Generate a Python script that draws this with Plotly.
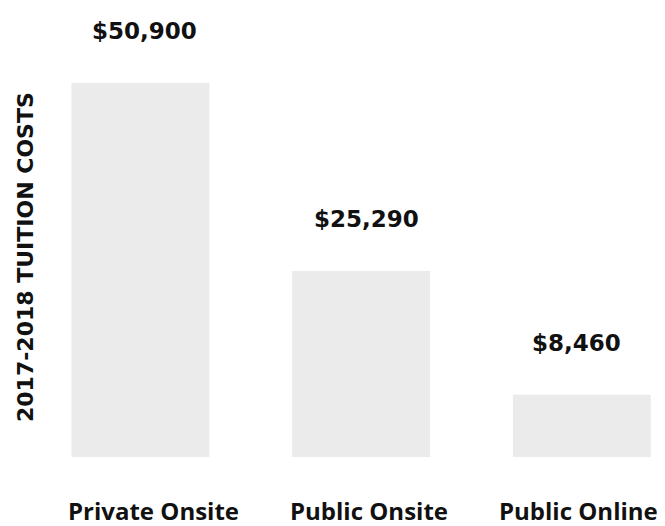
import plotly.graph_objects as go

categories = ["Private Onsite", "Public Onsite", "Public Online"]
costs = [50900, 25290, 8460]
value_labels = ["$50,900", "$25,290", "$8,460"]
axis_title = "2017-2018 TUITION COSTS"

# page has an 8px body margin; figure sized to fit the window
W, H = 657, 518
ml, mr, mt, mb = 32, 5, 0, 69

value_xshift = [4, 5, -5]
cat_xshift = [13, 8, -3]

fig = go.Figure()
fig.add_trace(go.Bar(
    x=categories, y=costs, width=0.625,
    marker=dict(color="#ebebeb", line=dict(width=0)),
    hoverinfo="skip",
))

for c, v, t, dx in zip(categories, costs, value_labels, value_xshift):
    fig.add_annotation(x=c, y=v, text=t, showarrow=False,
                       yanchor="middle", yshift=52, xshift=dx,
                       font=dict(family="DejaVu Sans", size=23, color="#111111", weight="bold"))

for c, dx in zip(categories, cat_xshift):
    fig.add_annotation(x=c, yref="paper", y=0, text=c, showarrow=False,
                       yanchor="middle", yshift=-53, xshift=dx,
                       font=dict(family="Open Sans", size=24, color="#111111", weight="bold"))

plot_h = H - mt - mb
fig.add_annotation(xref="paper", yref="paper",
                   x=(17.5 - ml) / (W - ml - mr), y=1 - (249.5 - mt) / plot_h,
                   text=axis_title, showarrow=False, textangle=-90,
                   xanchor="center", yanchor="middle",
                   font=dict(family="DejaVu Sans", size=22, color="#111111", weight="bold"))

fig.update_layout(
    width=W, height=H,
    margin=dict(l=ml, r=mr, t=mt, b=mb),
    plot_bgcolor="white", paper_bgcolor="white",
    showlegend=False,
    xaxis=dict(range=[-0.455, 2.354], showgrid=False, zeroline=False, showline=False,
               showticklabels=False, ticks=""),
    yaxis=dict(range=[0, 61088], showgrid=False, zeroline=False, showline=False,
               showticklabels=False, ticks=""),
)

fig.write_html("out.html")
